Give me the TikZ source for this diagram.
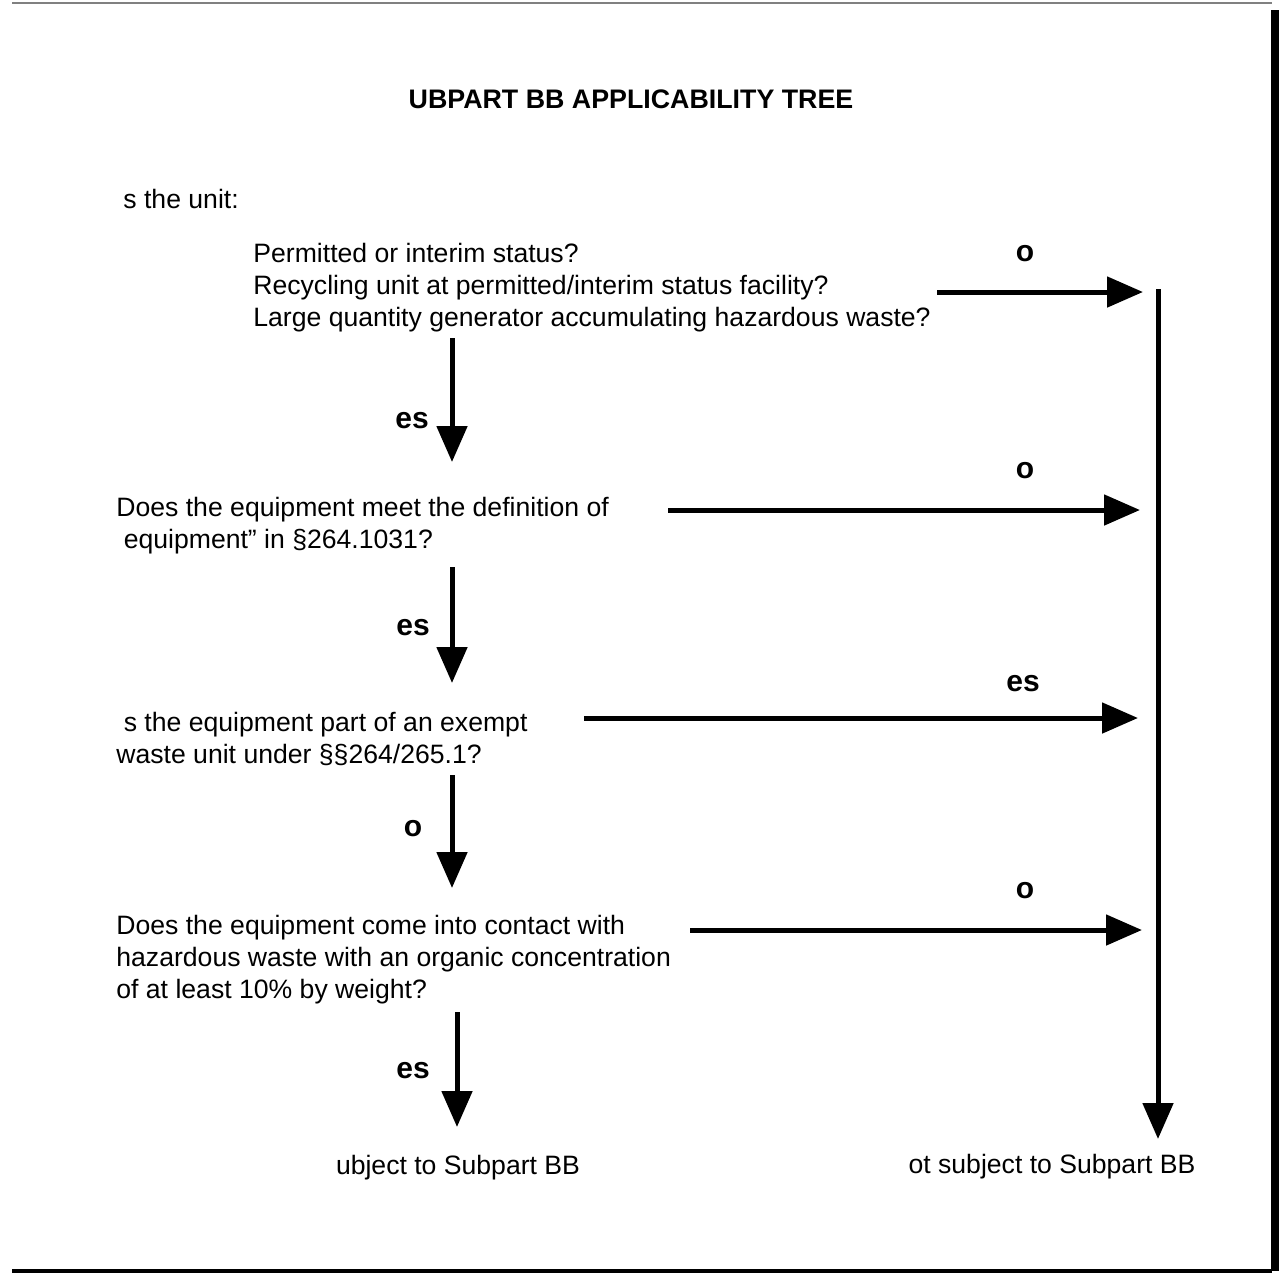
\documentclass[tikz,border=0pt]{standalone}
\usepackage{fontspec}
\setmainfont{Liberation Sans}
\usepackage{tikz}
\usetikzlibrary{arrows.meta}

\tikzset{
    frage/.style={anchor=west, align=left, inner sep=0pt, font=\fontsize{13.3}{16}\selectfont},
    antwort/.style={inner sep=0pt, font=\fontsize{15}{16}\selectfont\bfseries},
    pfeil/.style={line width=2.5pt, -{Triangle[length=18pt, width=15pt]}},
}

\begin{document}
\begin{tikzpicture}[x=0.5pt, y=-0.5pt]
    \useasboundingbox (0,0) rectangle (1279,1276);

    % rahmen
    \draw[gray, line width=0.8pt] (12,3) -- (1272,3);
    \fill (1271,10) rectangle (1279,1271);
    \draw[line width=1.6pt] (12,1271) -- (1272,1271);

    % titel
    \node[font=\fontsize{13.4}{16}\selectfont\bfseries] (titel) at (631,99) {UBPART BB APPLICABILITY TREE};
    \node[frage] (start) at (123,199) {s the unit:};

    % fragen
    \node[frage] (q1) at (253,288) {Permitted or interim status?\\Recycling unit at permitted/interim status facility?\\Large quantity generator accumulating hazardous waste?};
    \node[frage] (q2) at (116,526) {Does the equipment meet the definition of\\\ equipment'' in \S264.1031?};
    \node[frage] (q3) at (116,739) {\ s the equipment part of an exempt\\waste unit under \S\S264/265.1?};
    \node[frage] (q4) at (116,960) {Does the equipment come into contact with\\hazardous waste with an organic concentration\\of at least 10\% by weight?};

    % ergebnisse
    \node[frage, anchor=center] (ja) at (458,1168) {ubject to Subpart BB};
    \node[frage, anchor=center] (nein) at (1052,1167) {ot subject to Subpart BB};

    % punkte der pfeile
    \coordinate (l1) at (937,292);  \coordinate (r1) at (1143,292);
    \coordinate (l2) at (668,510);  \coordinate (r2) at (1140,510);
    \coordinate (l3) at (584,718);  \coordinate (r3) at (1138,718);
    \coordinate (l4) at (690,930);  \coordinate (r4) at (1142,930);
    \coordinate (oben) at (1158,289); \coordinate (unten) at (1158,1139);
    \coordinate (s1) at (452,338);  \coordinate (e1) at (452,462);
    \coordinate (s2) at (452,567);  \coordinate (e2) at (452,683);
    \coordinate (s3) at (452,775);  \coordinate (e3) at (452,888);
    \coordinate (s4) at (457,1012); \coordinate (e4) at (457,1127);

    % rechte sammelleitung
    \draw[pfeil] (oben) -- (unten);

    % horizontale pfeile
    \draw[pfeil] (l1) -- (r1);
    \node[antwort] (a1) at (1025,254) {o};
    \draw[pfeil] (l2) -- (r2);
    \node[antwort] (a2) at (1025,471) {o};
    \draw[pfeil] (l3) -- (r3);
    \node[antwort] (a3) at (1023,684) {es};
    \draw[pfeil] (l4) -- (r4);
    \node[antwort] (a4) at (1025,891) {o};

    % vertikale pfeile
    \draw[pfeil] (s1) -- (e1);
    \node[antwort] (b1) at (412,421) {es};
    \draw[pfeil] (s2) -- (e2);
    \node[antwort] (b2) at (413,628) {es};
    \draw[pfeil] (s3) -- (e3);
    \node[antwort] (b3) at (413,829) {o};
    \draw[pfeil] (s4) -- (e4);
    \node[antwort] (b4) at (413,1071) {es};
\end{tikzpicture}
\end{document}
